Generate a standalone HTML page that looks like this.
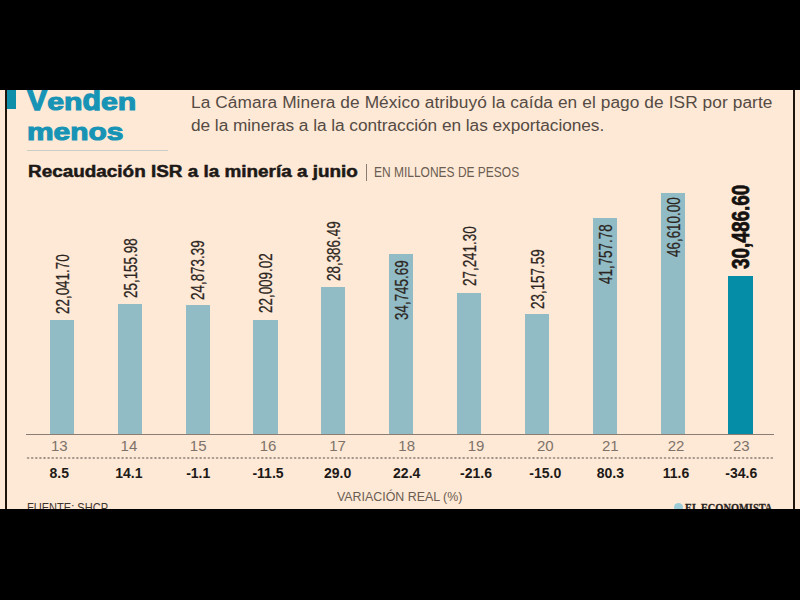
<!DOCTYPE html><html><head><meta charset="utf-8"><style>
*{margin:0;padding:0;box-sizing:border-box}
html,body{width:800px;height:600px;background:#000;overflow:hidden;font-family:"Liberation Sans",sans-serif}
#card{position:absolute;left:0;top:89.5px;width:800px;height:419.5px;background:#fee9d6;overflow:hidden}
.abs{position:absolute;white-space:nowrap}
.bar{position:absolute;background:#92bcc5}
.xh{display:inline-block;transform:scaleY(0.84);transform-origin:0 25.05px}
.lbl{position:absolute;width:0;height:0}
.lbl span{position:absolute;left:0;top:0;white-space:nowrap;transform-origin:0 0;font-size:18.6px;line-height:1;color:#2b2420;-webkit-text-stroke:0.25px #2b2420}
.cat{position:absolute;width:60px;text-align:center;font-size:15px;color:#7d726a;line-height:1}
.var{position:absolute;width:60px;text-align:center;font-size:14px;font-weight:bold;color:#1d1a18;line-height:1}
</style></head><body><div id="card">
<div class="abs" style="left:5.3px;top:0;width:2.1px;height:420px;background:#1e140c"></div>
<div class="abs" style="left:793.3px;top:0;width:2.1px;height:420px;background:#1e140c"></div>
<div class="abs" style="left:7.3px;top:0;width:8.8px;height:19.2px;background:#0e8ea8"></div>
<div class="abs" style="left:27.2px;top:-4.049999999999997px;font-weight:bold;font-size:29px;line-height:30px;color:#1794b5;-webkit-text-stroke:1.3px #1794b5;transform:scaleX(1.043);transform-origin:0 0">V<span class="xh">en</span>d<span class="xh">en</span></div>
<div class="abs" style="left:26.5px;top:25.950000000000003px;font-weight:bold;font-size:29px;line-height:30px;color:#1794b5;-webkit-text-stroke:1.3px #1794b5;transform:scaleX(1.032);transform-origin:0 0"><span class="xh">menos</span></div>
<div class="abs" style="left:27px;top:60.30000000000001px;width:141px;height:1.6px;background:#c9cdc5"></div>
<div class="abs" style="left:191px;top:1.5px;font-size:17.3px;line-height:22px;color:#554b44;letter-spacing:0.085px">La Cámara Minera de México atribuyó la caída en el pago de ISR por parte</div>
<div class="abs" style="left:191px;top:24.0px;font-size:17.3px;line-height:22px;color:#554b44;letter-spacing:-0.05px">de la mineras a la la contracción en las exportaciones.</div>
<div class="abs" style="left:28px;top:71.69999999999999px;font-size:17.2px;font-weight:bold;line-height:20px;color:#1d1a18;-webkit-text-stroke:0.5px #1a1512;transform:scaleX(1.1);transform-origin:0 0">Recaudación ISR a la minería a junio</div>
<div class="abs" style="left:365.5px;top:74.1px;width:1.4px;height:17.5px;background:#8a7b70"></div>
<div class="abs" style="left:374px;top:74.69999999999999px;font-size:14.3px;line-height:16px;color:#6b5d52;transform:scaleX(0.838);transform-origin:0 0">EN MILLONES DE PESOS</div>
<div class="bar" style="left:49.75px;top:230.47px;width:24.05px;height:114.03px;background:#92bcc5"></div>
<div class="lbl" style="left:62.67px;top:224.70px"><span style="transform:rotate(-90deg) scaleX(0.721) translateY(-50%)">22,041.70</span></div>
<div class="cat" style="left:29.30px;top:348.60px">13</div>
<div class="var" style="left:29.30px;top:376.10px">8.5</div>
<div class="bar" style="left:117.50px;top:214.36px;width:24.25px;height:130.14px;background:#92bcc5"></div>
<div class="lbl" style="left:130.53px;top:208.40px"><span style="transform:rotate(-90deg) scaleX(0.721) translateY(-50%)">25,155.98</span></div>
<div class="cat" style="left:98.90px;top:348.60px">14</div>
<div class="var" style="left:98.90px;top:376.10px">14.1</div>
<div class="bar" style="left:185.50px;top:215.82px;width:24.00px;height:128.68px;background:#92bcc5"></div>
<div class="lbl" style="left:198.40px;top:210.70px"><span style="transform:rotate(-90deg) scaleX(0.721) translateY(-50%)">24,873.39</span></div>
<div class="cat" style="left:168.20px;top:348.60px">15</div>
<div class="var" style="left:168.20px;top:376.10px">-1.1</div>
<div class="bar" style="left:253.30px;top:230.64px;width:24.30px;height:113.86px;background:#92bcc5"></div>
<div class="lbl" style="left:266.35px;top:223.80px"><span style="transform:rotate(-90deg) scaleX(0.721) translateY(-50%)">22,009.02</span></div>
<div class="cat" style="left:238.00px;top:348.60px">16</div>
<div class="var" style="left:238.00px;top:376.10px">-11.5</div>
<div class="bar" style="left:320.75px;top:197.65px;width:24.25px;height:146.85px;background:#92bcc5"></div>
<div class="lbl" style="left:333.77px;top:191.20px"><span style="transform:rotate(-90deg) scaleX(0.721) translateY(-50%)">28,386.49</span></div>
<div class="cat" style="left:307.60px;top:348.60px">17</div>
<div class="var" style="left:307.60px;top:376.10px">29.0</div>
<div class="bar" style="left:389.25px;top:164.75px;width:23.85px;height:179.75px;background:#92bcc5"></div>
<div class="lbl" style="left:402.07px;top:230.60px"><span style="transform:rotate(-90deg) scaleX(0.721) translateY(-50%)">34,745.69</span></div>
<div class="cat" style="left:376.70px;top:348.60px">18</div>
<div class="var" style="left:376.70px;top:376.10px">22.4</div>
<div class="bar" style="left:457.00px;top:203.57px;width:23.90px;height:140.93px;background:#92bcc5"></div>
<div class="lbl" style="left:469.85px;top:196.60px"><span style="transform:rotate(-90deg) scaleX(0.721) translateY(-50%)">27,241.30</span></div>
<div class="cat" style="left:446.00px;top:348.60px">19</div>
<div class="var" style="left:446.00px;top:376.10px">-21.6</div>
<div class="bar" style="left:525.00px;top:224.70px;width:23.90px;height:119.80px;background:#92bcc5"></div>
<div class="lbl" style="left:537.85px;top:219.10px"><span style="transform:rotate(-90deg) scaleX(0.721) translateY(-50%)">23,157.59</span></div>
<div class="cat" style="left:515.30px;top:348.60px">20</div>
<div class="var" style="left:515.30px;top:376.10px">-15.0</div>
<div class="bar" style="left:593.00px;top:128.47px;width:24.00px;height:216.03px;background:#92bcc5"></div>
<div class="lbl" style="left:605.90px;top:194.10px"><span style="transform:rotate(-90deg) scaleX(0.721) translateY(-50%)">41,757.78</span></div>
<div class="cat" style="left:580.30px;top:348.60px">21</div>
<div class="var" style="left:580.30px;top:376.10px">80.3</div>
<div class="bar" style="left:661.00px;top:103.37px;width:23.90px;height:241.13px;background:#92bcc5"></div>
<div class="lbl" style="left:673.85px;top:167.80px"><span style="transform:rotate(-90deg) scaleX(0.721) translateY(-50%)">46,610.00</span></div>
<div class="cat" style="left:646.00px;top:348.60px">22</div>
<div class="var" style="left:646.00px;top:376.10px">11.6</div>
<div class="bar" style="left:728.30px;top:186.78px;width:24.50px;height:157.72px;background:#058ca6"></div>
<div class="lbl" style="left:741.45px;top:179.70px"><span style="font-size:24px;font-weight:bold;color:#141110;-webkit-text-stroke:0.8px #141110;transform:rotate(-90deg) scaleX(0.79) translateY(-50%)">30,486.60</span></div>
<div class="cat" style="left:711.25px;top:348.60px">23</div>
<div class="var" style="left:711.25px;top:376.10px">-34.6</div>
<div class="abs" style="left:26px;top:344.0px;width:747.5px;height:1.5px;background:#8c7d72"></div>
<div class="abs" style="left:26px;top:367.8px;width:748px;height:2px;background-image:radial-gradient(circle,#9d9086 0.9px,transparent 1.1px);background-size:4.12px 2px"></div>
<div class="abs" style="left:337px;top:399.8px;font-size:13.2px;line-height:15px;color:#6b5d52;transform:scaleX(0.94);transform-origin:0 0">VARIACIÓN REAL (%)</div>
<div class="abs" style="left:26.5px;top:410.2px;font-size:13px;line-height:15px;color:#3e342e;transform:scaleX(0.85);transform-origin:0 0">FUENTE: SHCP</div>
<div class="abs" style="left:674px;top:413.5px;width:9px;height:9px;border-radius:50%;background:#9ccbd8"></div>
<div class="abs" style="left:684.5px;top:410.5px;font-family:'Liberation Serif',serif;font-weight:bold;font-size:13px;line-height:15px;color:#2a2420;-webkit-text-stroke:0.3px #2a2420;transform:scaleX(0.8);transform-origin:0 0">EL ECONOMISTA</div>
</div></body></html>
